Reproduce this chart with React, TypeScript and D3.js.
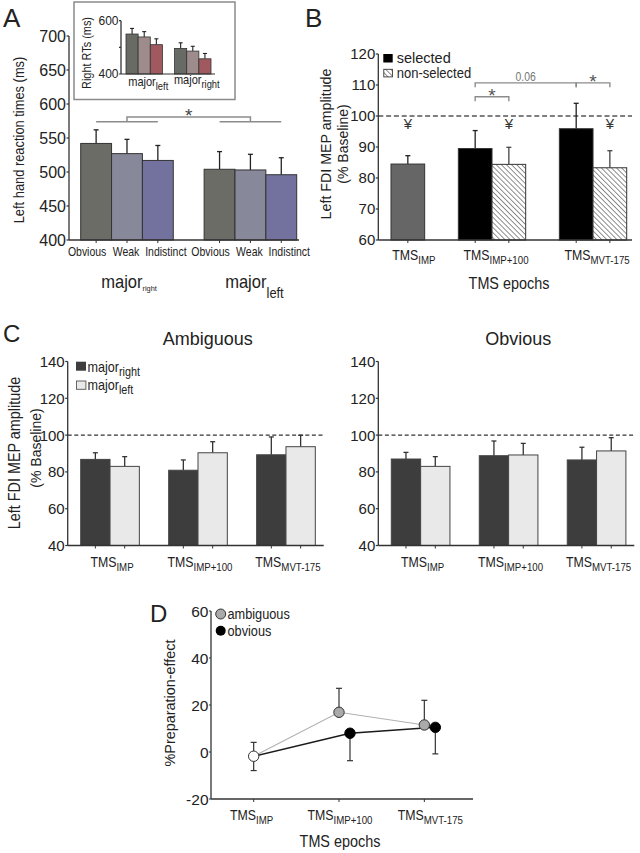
import React from 'react';
import * as d3 from 'd3';

// ---------------- DATA ----------------
// Panel A: left hand reaction times (ms)
const A_CONDITIONS = ['Obvious', 'Weak', 'Indistinct'];
const A_GROUP_SUBS = ['right', 'left'];
const A_MEANS_RIGHT = [542, 527, 517];
const A_ERR_RIGHT = [20, 21, 22];
const A_MEANS_LEFT = [504, 503, 496];
const A_ERR_LEFT = [26, 23, 25];
const A_TICKS = [400, 450, 500, 550, 600, 650, 700];
const A_BRACKET = [574, 581];

// Inset: right RTs (ms)
const IN_GROUP_SUBS = ['left', 'right'];
const IN_MEANS_LEFT = [550, 539, 510];
const IN_ERR_LEFT = [21, 20, 22];
const IN_MEANS_RIGHT = [496, 486, 457];
const IN_ERR_RIGHT = [21, 18, 20];
const IN_TICKS = [400, 500, 600];
const IN_TICK_LABELS = [400, 600];

// Panel B
const EPOCHS = ['IMP', 'IMP+100', 'MVT-175'];
const B_SELECTED = [84.5, 89.5, 95.9];
const B_SELECTED_ERR = [2.7, 5.8, 8.2];
const B_NONSEL = [NaN, 84.4, 83.3];
const B_NONSEL_ERR = [NaN, 5.5, 5.5];
const B_TICKS = [60, 70, 80, 90, 100, 110, 120];
const B_YEN_LEVEL = 96;
const B_SIG = [
  { from: 2, to: 3, level: 106.2, label: '*' },
  { from: 2, to: 5, level: 110.7, label: '0.06' },
  { from: 5, to: 6, level: 110.7, label: '*' },
];

// Panel C
const C_TICKS = [40, 60, 80, 100, 120, 140];
const C_AMB_RIGHT = [86.8, 80.9, 89.3];
const C_AMB_RIGHT_ERR = [3.6, 5.6, 9.7];
const C_AMB_LEFT = [83.0, 90.4, 93.7];
const C_AMB_LEFT_ERR = [5.3, 6.0, 6.2];
const C_OBV_RIGHT = [87.0, 88.8, 86.5];
const C_OBV_RIGHT_ERR = [3.6, 8.0, 6.9];
const C_OBV_LEFT = [83.0, 89.2, 91.4];
const C_OBV_LEFT_ERR = [5.3, 6.3, 7.2];

// Panel D
const D_TICKS = [-20, 0, 20, 40, 60];
const D_AMBIGUOUS = [-1.8, 16.9, 11.5];
const D_AMBIGUOUS_ERR = [5.9, 10.2, 10.5];
const D_OBVIOUS = [-1.8, 8.0, 10.5];
const D_OBVIOUS_ERR = [6.1, 11.7, 11.3];

// ---------------- STYLE ----------------
const FONT = '"Liberation Sans", Arial, Helvetica, sans-serif';
const AX = '#333';
const TXT = '#222';
const A_LABEL_SHIFT = [-9, -1, 8];

function Txt({ x, y, size = 14, anchor = 'start', sx = 1, rot = 0, fill = TXT, children }: any) {
  return (
    <g transform={`translate(${x},${y}) rotate(${rot}) scale(${sx},1)`}>
      <text fontFamily={FONT} fontSize={size} textAnchor={anchor} fill={fill}>
        {children}
      </text>
    </g>
  );
}

function YAxis({ scale, ticks, labels, x, size, tickLen = 3 }: any) {
  const [y0, y1] = scale.range();
  const lab = labels || ticks;
  return (
    <g>
      <line x1={x} x2={x} y1={y0} y2={y1} stroke={AX} strokeWidth={1.3} />
      {ticks.map((t: number) => (
        <line key={'t' + t} x1={x - tickLen} x2={x} y1={scale(t)} y2={scale(t)} stroke={AX} strokeWidth={1.2} />
      ))}
      {lab.map((t: number) => (
        <text key={'l' + t} x={x - tickLen - 0.5} y={scale(t)} dy="0.36em" textAnchor="end"
          fontFamily={FONT} fontSize={size} fill={TXT}>{t}</text>
      ))}
    </g>
  );
}

function ErrBar({ x, y0, y1, cap = 2.5, color = '#222', w = 1.3 }: any) {
  return (
    <g stroke={color} strokeWidth={w}>
      <line x1={x} x2={x} y1={y0} y2={y1} />
      <line x1={x - cap} x2={x + cap} y1={y1} y2={y1} />
    </g>
  );
}

function TmsLabel({ x, y, sub }: any) {
  return (
    <Txt x={x} y={y} size={14} sx={0.88} anchor="middle">
      TMS<tspan fontSize={11} dy={4}>{sub}</tspan>
    </Txt>
  );
}

// ---------------- PANEL A ----------------
function PanelA() {
  const y = d3.scaleLinear().domain([400, 700]).range([240, 36]);
  const slot = d3.scaleBand<number>().domain(d3.range(7)).range([80.7, 296.7]);
  const bw = slot.bandwidth();
  const axX = 69;
  const colors = ['#6b6c66', '#878899', '#73729f'];
  const groups = [
    { means: A_MEANS_RIGHT, errs: A_ERR_RIGHT },
    { means: A_MEANS_LEFT, errs: A_ERR_LEFT },
  ];
  const bars = groups.flatMap((g, gi) =>
    g.means.map((m, ci) => ({ s: gi * 4 + ci, m, e: g.errs[ci], c: ci }))
  );
  const cx = (s: number) => (slot(s) as number) + bw / 2;
  const yb0 = y(A_BRACKET[0]);
  const yb1 = y(A_BRACKET[1]);
  return (
    <g>
      <Txt x={3} y={27} size={26}>A</Txt>
      <Txt x={24} y={140} size={14} sx={0.92} rot={-90} anchor="middle">Left hand reaction times (ms)</Txt>
      {bars.map((b, i) => (
        <g key={i}>
          <ErrBar x={cx(b.s)} y0={y(b.m)} y1={y(b.m + b.e)} />
          <rect x={slot(b.s)} y={y(b.m)} width={bw} height={y(400) - y(b.m)} fill={colors[b.c]} stroke="#333" strokeWidth={1} />
        </g>
      ))}
      <YAxis scale={y} ticks={A_TICKS} x={axX} size={16} tickLen={2.5} />
      <line x1={axX} x2={299} y1={240} y2={240} stroke={AX} strokeWidth={1.3} />
      {bars.map((b, i) => (
        <line key={'xt' + i} x1={cx(b.s)} x2={cx(b.s)} y1={240} y2={243} stroke={AX} />
      ))}
      {bars.map((b, i) => (
        <Txt key={'xl' + i} x={cx(b.s) + A_LABEL_SHIFT[b.c]} y={256} size={12.5} sx={0.84} anchor="middle">{A_CONDITIONS[b.c]}</Txt>
      ))}
      {/* significance bracket */}
      <g stroke="#8c8c8c" strokeWidth={1.5} fill="none">
        <line x1={cx(0)} x2={cx(2)} y1={yb0} y2={yb0} />
        <line x1={cx(4)} x2={cx(6)} y1={yb0} y2={yb0} />
        <polyline points={`${cx(1)},${yb0} ${cx(1)},${yb1} ${cx(5)},${yb1} ${cx(5)},${yb0}`} />
      </g>
      <Txt x={(cx(1) + cx(5)) / 2} y={122} size={19} anchor="middle" fill="#444">*</Txt>
      {/* group labels */}
      <Txt x={cx(1) + 2} y={287.5} size={18} sx={0.92} anchor="middle">
        major<tspan fontSize={8} dy={3.5}>{A_GROUP_SUBS[0]}</tspan>
      </Txt>
      <Txt x={cx(5) + 4} y={287.5} size={18} sx={0.92} anchor="middle">
        major<tspan fontSize={14} dy={10}>{A_GROUP_SUBS[1]}</tspan>
      </Txt>
      <Inset />
    </g>
  );
}

function Inset() {
  const y = d3.scaleLinear().domain([400, 600]).range([74, 20.7]);
  const slot = d3.scaleBand<number>().domain(d3.range(7)).range([126, 211]);
  const bw = slot.bandwidth();
  const colors = ['#686b64', '#9e8b8c', '#a05a5f'];
  const groups = [
    { means: IN_MEANS_LEFT, errs: IN_ERR_LEFT },
    { means: IN_MEANS_RIGHT, errs: IN_ERR_RIGHT },
  ];
  const bars = groups.flatMap((g, gi) =>
    g.means.map((m, ci) => ({ s: gi * 4 + ci, m, e: g.errs[ci], c: ci }))
  );
  const cx = (s: number) => (slot(s) as number) + bw / 2;
  return (
    <g>
      <rect x={74} y={2} width={161} height={97.5} fill="#fff" stroke="#8a8a8a" strokeWidth={1.5} />
      <Txt x={91} y={53} size={13} sx={0.84} rot={-90} anchor="middle">Right RTs (ms)</Txt>
      {bars.map((b, i) => (
        <g key={i}>
          <ErrBar x={cx(b.s)} y0={y(b.m)} y1={y(b.m + b.e)} cap={2} w={1.1} />
          <rect x={slot(b.s)} y={y(b.m)} width={bw} height={y(400) - y(b.m)} fill={colors[b.c]} stroke="#333" strokeWidth={0.8} />
        </g>
      ))}
      <YAxis scale={y} ticks={IN_TICKS} labels={IN_TICK_LABELS} x={121} size={12} tickLen={2} />
      <line x1={121} x2={215} y1={74} y2={74} stroke={AX} strokeWidth={1.2} />
      <Txt x={cx(1) + 4} y={86} size={13} sx={0.85} anchor="middle">
        major<tspan fontSize={11} dy={4}>{IN_GROUP_SUBS[0]}</tspan>
      </Txt>
      <Txt x={cx(5) + 4} y={84} size={13} sx={0.85} anchor="middle">
        major<tspan fontSize={11} dy={4}>{IN_GROUP_SUBS[1]}</tspan>
      </Txt>
    </g>
  );
}

// ---------------- PANEL B ----------------
function PanelB() {
  const y = d3.scaleLinear().domain([60, 120]).range([240, 54]);
  const slot = d3.scaleBand<number>().domain(d3.range(7)).range([391, 626.7]);
  const bw = slot.bandwidth();
  const axX = 378.3;
  const cx = (s: number) => (slot(s) as number) + bw / 2;
  const bars = EPOCHS.flatMap((e, i) =>
    i === 0
      ? [{ s: 0, v: B_SELECTED[0], err: B_SELECTED_ERR[0], kind: 'imp' }]
      : [
          { s: 3 * i - 1, v: B_SELECTED[i], err: B_SELECTED_ERR[i], kind: 'sel' },
          { s: 3 * i, v: B_NONSEL[i], err: B_NONSEL_ERR[i], kind: 'non' },
        ]
  );
  const groupCenter = (i: number) => (i === 0 ? cx(0) : (cx(3 * i - 1) + cx(3 * i)) / 2);
  const yenSlots = bars.filter((b) => b.kind !== 'sel').map((b) => b.s);
  return (
    <g>
      <Txt x={305} y={27} size={26}>B</Txt>
      <Txt x={331} y={144} size={15} sx={0.95} rot={-90} anchor="middle">Left FDI MEP amplitude</Txt>
      <Txt x={348} y={144} size={14} rot={-90} anchor="middle">(% Baseline)</Txt>
      <line x1={axX} x2={632} y1={y(100)} y2={y(100)} stroke="#555" strokeWidth={1.3} strokeDasharray="5,2.8" />
      {bars.map((b, i) => (
        <g key={i}>
          <ErrBar x={cx(b.s)} y0={y(b.v)} y1={y(b.v + b.err)} color={b.kind === 'non' ? '#444' : '#222'} />
          <rect x={slot(b.s)} y={y(b.v)} width={bw} height={y(60) - y(b.v)}
            fill={b.kind === 'imp' ? '#666' : b.kind === 'sel' ? '#000' : 'url(#hatch)'}
            stroke="#333" strokeWidth={1} />
        </g>
      ))}
      {yenSlots.map((s) => (
        <Txt key={'yen' + s} x={cx(s)} y={y(B_YEN_LEVEL) + 0.5} size={15} anchor="middle" fill="#333">¥</Txt>
      ))}
      <YAxis scale={y} ticks={B_TICKS} x={axX} size={15} tickLen={2.5} />
      <line x1={axX} x2={632} y1={240} y2={240} stroke={AX} strokeWidth={1.3} />
      {bars.map((b, i) => (
        <line key={'xt' + i} x1={cx(b.s)} x2={cx(b.s)} y1={240} y2={243} stroke={AX} />
      ))}
      {EPOCHS.map((e, i) => (
        <TmsLabel key={e} x={groupCenter(i) + (i === 0 ? 6 : 4)} y={260} sub={e} />
      ))}
      <Txt x={509} y={289} size={16} sx={0.9} anchor="middle">TMS epochs</Txt>
      {/* significance */}
      {B_SIG.map((s, i) => {
        const yy = y(s.level);
        const x1 = cx(s.from);
        const x2 = cx(s.to);
        return (
          <g key={'sig' + i}>
            <polyline points={`${x1},${yy + 4.5} ${x1},${yy} ${x2},${yy} ${x2},${yy + 4.5}`}
              fill="none" stroke="#8c8c8c" strokeWidth={1.4} />
            {s.label === '*' ? (
              <Txt x={(x1 + x2) / 2} y={yy + 5} size={19} anchor="middle" fill="#555">*</Txt>
            ) : (
              <Txt x={(x1 + x2) / 2} y={yy - 2} size={13} sx={0.8} anchor="middle" fill="#777">{s.label}</Txt>
            )}
          </g>
        );
      })}
      {/* legend */}
      <rect x={383.3} y={54} width={9.4} height={8.5} fill="#000" />
      <Txt x={396.7} y={62.7} size={14.5}>selected</Txt>
      <rect x={383.8} y={69.3} width={8.6} height={7.6} fill="url(#hatch)" stroke="#333" strokeWidth={0.9} />
      <Txt x={396.7} y={77.5} size={14} sx={0.93}>non-selected</Txt>
    </g>
  );
}

// ---------------- PANEL C ----------------
function PanelC({ x0, title, right, rightErr, left, leftErr, legend, ylabel }: any) {
  const y = d3.scaleLinear().domain([40, 140]).range([545.5, 361.5]);
  const slot = d3.scaleBand<number>().domain(d3.range(8)).range([x0 + 13, x0 + 247.6]);
  const bw = slot.bandwidth();
  const cx = (s: number) => (slot(s) as number) + bw / 2;
  const xEnd = x0 + 256;
  const bars = EPOCHS.flatMap((e, i) => [
    { s: 3 * i, v: right[i], err: rightErr[i], dark: true },
    { s: 3 * i + 1, v: left[i], err: leftErr[i], dark: false },
  ]);
  return (
    <g>
      <Txt x={x0 + 140} y={345} size={18} anchor="middle">{title}</Txt>
      {ylabel && (
        <g>
          <Txt x={20} y={453} size={16} sx={0.9} rot={-90} anchor="middle">Left FDI MEP amplitude</Txt>
          <Txt x={41} y={448} size={14} rot={-90} anchor="middle">(% Baseline)</Txt>
        </g>
      )}
      <line x1={x0} x2={xEnd} y1={y(100)} y2={y(100)} stroke="#333" strokeWidth={1.2} strokeDasharray="4,2.6" />
      {bars.map((b, i) => (
        <g key={i}>
          <ErrBar x={cx(b.s)} y0={y(b.v)} y1={y(b.v + b.err)} color="#333" />
          <rect x={slot(b.s)} y={y(b.v)} width={bw} height={y(40) - y(b.v)}
            fill={b.dark ? '#3d3d3d' : '#e8e9e8'} stroke="#444" strokeWidth={1} />
        </g>
      ))}
      <YAxis scale={y} ticks={C_TICKS} x={x0} size={15} tickLen={2.5} />
      <line x1={x0} x2={xEnd} y1={545.5} y2={545.5} stroke={AX} strokeWidth={1.3} />
      {bars.map((b, i) => (
        <line key={'xt' + i} x1={cx(b.s)} x2={cx(b.s)} y1={545.5} y2={548.5} stroke={AX} />
      ))}
      {EPOCHS.map((e, i) => (
        <TmsLabel key={e} x={(cx(3 * i) + cx(3 * i + 1)) / 2 + 2} y={566.5} sub={e} />
      ))}
      {legend && (
        <g>
          <rect x={76} y={361.7} width={10} height={9} fill="#3d3d3d" />
          <Txt x={87.5} y={371.5} size={14} sx={0.9}>
            major<tspan fontSize={12} dy={4}>right</tspan>
          </Txt>
          <rect x={76.5} y={381} width={9.4} height={8.3} fill="#e8e9e8" stroke="#555" strokeWidth={0.9} />
          <Txt x={87.5} y={389.5} size={14} sx={0.9}>
            major<tspan fontSize={12} dy={4}>left</tspan>
          </Txt>
        </g>
      )}
    </g>
  );
}

// ---------------- PANEL D ----------------
function PanelD() {
  const y = d3.scaleLinear().domain([-20, 60]).range([799, 611]);
  const x = d3.scalePoint<string>().domain(EPOCHS).range([211, 467]).padding(0.5);
  const dodge = 11;
  const ax = (i: number) => x(EPOCHS[i]) as number;
  const ox = (i: number) => (x(EPOCHS[i]) as number) + (i === 0 ? 0 : dodge);
  const line = d3.line<[number, number]>();
  const ambPts = D_AMBIGUOUS.map((v, i) => [ax(i), y(v)] as [number, number]);
  const obvPts = D_OBVIOUS.map((v, i) => [ox(i), y(v)] as [number, number]);
  return (
    <g>
      <Txt x={150} y={622} size={24}>D</Txt>
      <Txt x={175} y={703} size={15} sx={0.96} rot={-90} anchor="middle">%Preparation-effect</Txt>
      <path d={line(ambPts) as string} fill="none" stroke="#b0b0b0" strokeWidth={1.1} />
      <path d={line(obvPts) as string} fill="none" stroke="#1a1a1a" strokeWidth={1.5} />
      {D_AMBIGUOUS.map((v, i) => (
        <ErrBar key={'ae' + i} x={ax(i)} y0={y(v)} y1={y(v + D_AMBIGUOUS_ERR[i])} cap={3} color="#333" w={1.2} />
      ))}
      {D_OBVIOUS.map((v, i) => (
        <ErrBar key={'oe' + i} x={ox(i)} y0={y(v)} y1={y(v - D_OBVIOUS_ERR[i])} cap={3} color="#333" w={1.2} />
      ))}
      {D_AMBIGUOUS.map((v, i) =>
        i === 0 ? null : <circle key={'ac' + i} cx={ax(i)} cy={y(v)} r={5.2} fill="#aaaaaa" stroke="#333" strokeWidth={1} />
      )}
      {D_OBVIOUS.map((v, i) =>
        i === 0 ? null : <circle key={'oc' + i} cx={ox(i)} cy={y(v)} r={5.2} fill="#000" stroke="#000" strokeWidth={1} />
      )}
      <circle cx={ax(0)} cy={y(D_AMBIGUOUS[0])} r={5.2} fill="#fff" stroke="#333" strokeWidth={1} />
      <YAxis scale={y} ticks={D_TICKS} x={211} size={15.5} tickLen={2} />
      <line x1={211} x2={473} y1={799} y2={799} stroke={AX} strokeWidth={1.3} />
      {EPOCHS.map((e, i) => (
        <line key={'xt' + i} x1={ax(i)} x2={ax(i)} y1={799} y2={802} stroke={AX} />
      ))}
      {EPOCHS.map((e, i) => (
        <TmsLabel key={e} x={ax(i) + (i === 0 ? -2 : i === 1 ? 1 : 6)} y={820} sub={e} />
      ))}
      <Txt x={340} y={846.5} size={16} sx={0.9} anchor="middle">TMS epochs</Txt>
      {/* legend */}
      <circle cx={220.7} cy={614} r={5} fill="#aaaaaa" stroke="#333" strokeWidth={1} />
      <Txt x={227.5} y={619} size={15} sx={0.85}>ambiguous</Txt>
      <circle cx={220.7} cy={630.7} r={5} fill="#000" />
      <Txt x={227.5} y={635.5} size={15} sx={0.85}>obvious</Txt>
    </g>
  );
}

export default function App() {
  return (
    <svg width={640} height={853} viewBox="0 0 640 853"
      style={{ position: 'absolute', left: 0, top: 0, background: '#fff' }}>
      <defs>
        <pattern id="hatch" patternUnits="userSpaceOnUse" width={3.6} height={3.6} patternTransform="rotate(-45)">
          <rect width={3.6} height={3.6} fill="#fff" />
          <line x1={0} y1={0} x2={0} y2={3.6} stroke="#333" strokeWidth={1.1} />
        </pattern>
      </defs>
      <rect width={640} height={853} fill="#fff" />
      <PanelA />
      <PanelB />
      <Txt x={3} y={342} size={24}>C</Txt>
      <PanelC x0={67.7} title="Ambiguous" right={C_AMB_RIGHT} rightErr={C_AMB_RIGHT_ERR}
        left={C_AMB_LEFT} leftErr={C_AMB_LEFT_ERR} legend ylabel />
      <PanelC x0={378.3} title="Obvious" right={C_OBV_RIGHT} rightErr={C_OBV_RIGHT_ERR}
        left={C_OBV_LEFT} leftErr={C_OBV_LEFT_ERR} />
      <PanelD />
    </svg>
  );
}
